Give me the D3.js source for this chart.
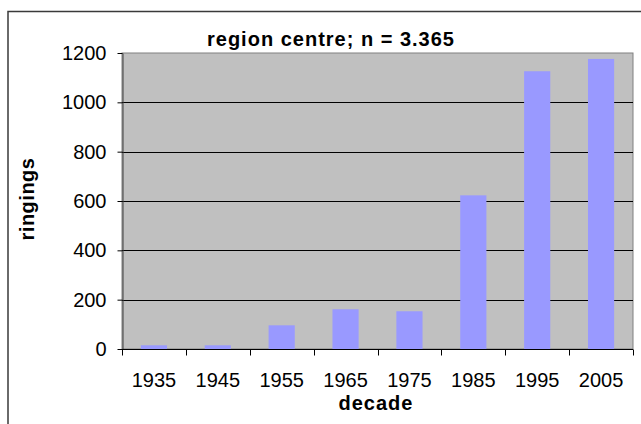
<!DOCTYPE html>
<html>
<head>
<meta charset="utf-8">
<script src="https://cdn.jsdelivr.net/npm/d3@7"></script>
<style>
  body { margin: 0; background: #fff; }
  svg { display: block; font-family: "Liberation Sans", Arial, sans-serif; }
</style>
</head>
<body>
<div id="chart"></div>
<script>
// 年代ごとの標識数
const decades = ["1935", "1945", "1955", "1965", "1975", "1985", "1995", "2005"];
const ringings = [15, 15, 96, 161, 153, 623, 1126, 1176];
const yTicks = [0, 200, 400, 600, 800, 1000, 1200];
const titleText = "region centre; n = 3.365";
const xLabel = "decade";
const yLabel = "ringings";

const width = 641, height = 424;
const plot = { left: 122, top: 53, right: 633, bottom: 349 };

const svg = d3.select("#chart").append("svg")
    .attr("width", width)
    .attr("height", height);

// 外枠
svg.append("path")
    .attr("d", `M8,${height + 2}V11.5H${width + 2}`)
    .attr("fill", "none")
    .attr("stroke", "#3a3a3a")
    .attr("stroke-width", 1.5);

const x = d3.scaleBand()
    .domain(decades)
    .range([plot.left, plot.right])
    .paddingInner(0.59)
    .paddingOuter(0.295);

const y = d3.scaleLinear()
    .domain([0, 1200])
    .range([plot.bottom, plot.top]);

// プロット領域
svg.append("rect")
    .attr("x", plot.left)
    .attr("y", plot.top)
    .attr("width", plot.right - plot.left)
    .attr("height", plot.bottom - plot.top)
    .attr("fill", "#c0c0c0")
    .attr("stroke", "#808080")
    .attr("stroke-width", 1);

// グリッド線
svg.append("g")
    .selectAll("line")
    .data(yTicks.filter(t => t > 0 && t < 1200))
    .join("line")
    .attr("x1", plot.left)
    .attr("x2", plot.right)
    .attr("y1", d => Math.round(y(d)) + 0.5)
    .attr("y2", d => Math.round(y(d)) + 0.5)
    .attr("stroke", "#000")
    .attr("stroke-width", 1);

// 棒
svg.append("g")
    .selectAll("rect")
    .data(decades)
    .join("rect")
    .attr("x", d => x(d))
    .attr("width", x.bandwidth())
    .attr("y", (d, i) => y(ringings[i]))
    .attr("height", (d, i) => y(0) - y(ringings[i]))
    .attr("fill", "#9999ff");

// Y軸
const yAxis = svg.append("g")
    .attr("transform", `translate(${plot.left + 0.5},0)`)
    .call(d3.axisLeft(y)
        .tickValues(yTicks)
        .tickFormat(d3.format("d"))
        .tickSize(5)
        .tickPadding(11)
        .tickSizeOuter(0));
yAxis.select(".domain").attr("stroke", "#404040");
yAxis.selectAll("text")
    .attr("font-size", 20)
    .attr("fill", "#000")
    .attr("font-family", "Liberation Sans, Arial, sans-serif");

// X軸 (目盛りはバンドの境界)
const xAxisG = svg.append("g")
    .attr("transform", `translate(0,${plot.bottom + 0.5})`);
xAxisG.append("line")
    .attr("x1", plot.left)
    .attr("x2", plot.right)
    .attr("stroke", "#000");
const step = x.step();
xAxisG.selectAll(".tick")
    .data(d3.range(decades.length + 1))
    .join("line")
    .attr("class", "tick")
    .attr("x1", i => Math.round(plot.left + i * step) + 0.5)
    .attr("x2", i => Math.round(plot.left + i * step) + 0.5)
    .attr("y1", 0)
    .attr("y2", 6)
    .attr("stroke", "#000");
xAxisG.selectAll("text")
    .data(decades)
    .join("text")
    .attr("x", d => x(d) + x.bandwidth() / 2)
    .attr("y", 37)
    .attr("text-anchor", "middle")
    .attr("font-size", 20)
    .text(d => d);

// タイトル
svg.append("text")
    .attr("x", 331)
    .attr("y", 46)
    .attr("text-anchor", "middle")
    .attr("font-size", 20)
    .attr("font-weight", "bold")
    .attr("letter-spacing", 1)
    .text(titleText);

// 軸ラベル
svg.append("text")
    .attr("x", 376)
    .attr("y", 410)
    .attr("text-anchor", "middle")
    .attr("font-size", 20)
    .attr("font-weight", "bold")
    .attr("letter-spacing", 1)
    .text(xLabel);

svg.append("text")
    .attr("transform", "translate(34,199) rotate(-90)")
    .attr("text-anchor", "middle")
    .attr("font-size", 20)
    .attr("font-weight", "bold")
    .attr("letter-spacing", 0.5)
    .text(yLabel);
</script>
</body>
</html>
